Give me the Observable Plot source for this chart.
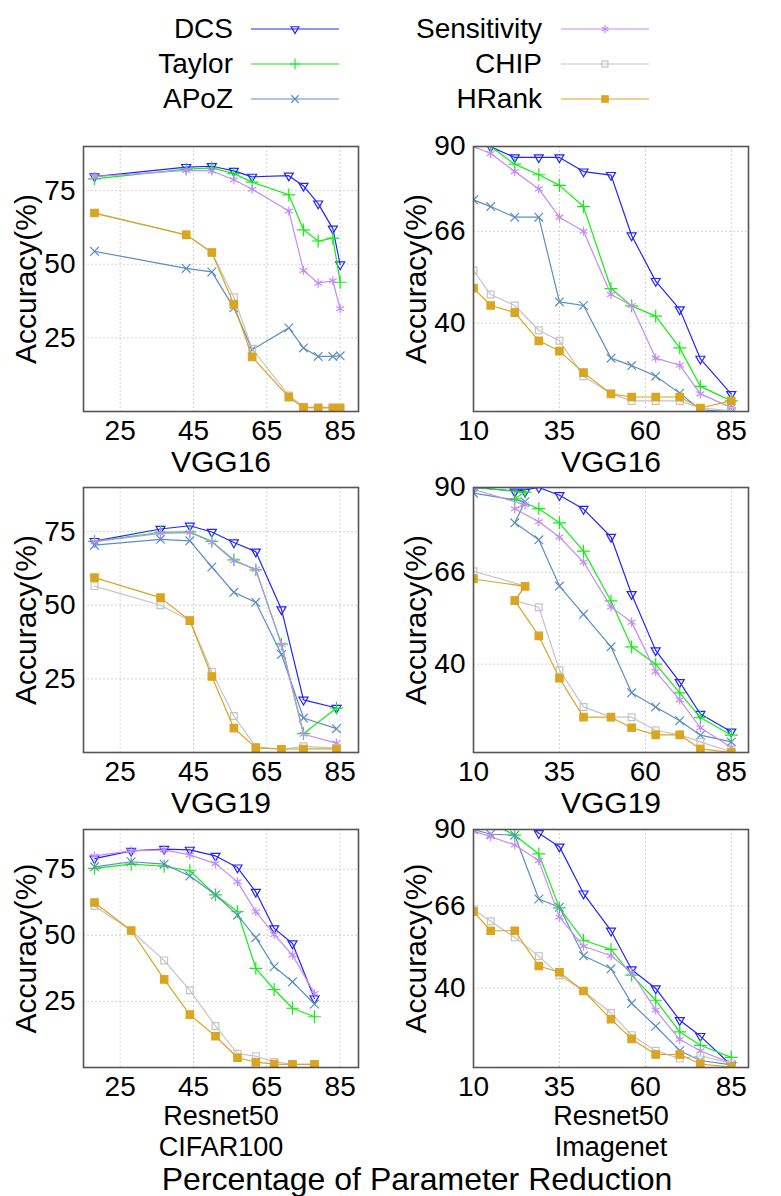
<!DOCTYPE html>
<html>
<head>
<meta charset="utf-8">
<script src="https://cdn.jsdelivr.net/npm/d3@7"></script>
<script src="https://cdn.jsdelivr.net/npm/@observablehq/plot@0.6"></script>
<style>
  html, body { margin: 0; padding: 0; background: #fff; }
  #root { position: relative; width: 781px; height: 1196px; overflow: hidden;
          font-family: "Liberation Sans", Arial, Helvetica, sans-serif; color: #000; }
  .panel { position: absolute; }
  .legtext { position: absolute; left: 0; text-align: right; font-size: 28px; line-height: 1; white-space: nowrap; }
  .legsw { position: absolute; overflow: visible; }
  #title { position: absolute; font-size: 32px; line-height: 1; white-space: nowrap; transform: translateX(-50%); }
</style>
</head>
<body>
<div id="root"></div>
<script>
// ---------------- DATA ----------------
const methods = ["DCS", "Taylor", "APoZ", "Sensitivity", "CHIP", "HRank"];

// tick labels
const xTicksLeft = [25, 45, 65, 85];
const yTicksLeft = [25, 50, 75];
const xTicksRight = [10, 35, 60, 85];
const yTicksRight = [40, 66, 90];

// Panel: VGG16 (left)
const vgg16L_x           = [18, 43, 50, 56, 61, 71, 75, 79, 83, 85];
const vgg16L_DCS         = [79.8, 83.0, 83.3, 81.7, 79.7, 80.1, 76.6, 70.6, 62.1, 49.9];
const vgg16L_Taylor      = [79.0, 82.3, 82.7, 80.8, 77.9, 73.6, 61.7, 57.9, 58.9, 43.9];
const vgg16L_APoZ        = [54.4, 48.6, 47.4, 35.2, 21.0, 28.4, 21.6, 18.7, 18.7, 18.9];
const vgg16L_Sensitivity = [79.8, 81.9, 81.7, 78.7, 75.5, 68.1, 47.9, 43.6, 44.4, 34.9];
const vgg16L_CHIP        = [67.4, 60.0, 54.0, 38.8, 21.3, 5.4, 1.6, 1.4, 1.4, 1.4];
const vgg16L_HRank       = [67.4, 60.0, 54.0, 36.4, 18.5, 4.9, 1.3, 1.2, 1.2, 1.2];

// Panel: VGG16 (right)
const vgg16R_x           = [10, 15, 22, 29, 35, 42, 50, 56, 63, 70, 76, 85];
const vgg16R_DCS         = [null, 89.9, 86.9, 86.9, 86.9, 82.9, 81.9, 64.8, 51.9, 43.9, 29.9, 19.9];
const vgg16R_Taylor      = [null, 90.0, 85.0, 82.0, 79.0, 73.0, 49.8, 44.9, 42.0, 33.0, 22.1, 18.0];
const vgg16R_APoZ        = [74.9, 73.0, 70.0, 70.0, 46.0, 45.0, 30.1, 28.0, 25.0, 20.2, 15.5, 14.9];
const vgg16R_Sensitivity = [90.0, 88.0, 82.9, 78.0, 70.0, 66.0, 48.1, 45.0, 30.1, 28.1, 20.0, 16.1];
const vgg16R_CHIP        = [54.9, 48.1, 45.0, 38.0, 35.0, 25.0, 20.0, 18.0, 18.0, 18.0, 16.0, 15.2];
const vgg16R_HRank       = [49.9, 45.0, 43.0, 35.0, 32.1, 26.0, 20.0, 19.1, 19.1, 19.1, 16.0, 18.0];

// Panel: VGG19 (left)
const vgg19L_x           = [18, 36, 44, 50, 56, 62, 69, 75, 84];
const vgg19L_DCS         = [71.8, 75.9, 77.0, 74.9, 71.3, 68.2, 48.6, 17.9, 15.1];
const vgg19L_Taylor      = [71.7, 74.8, 74.9, 71.7, 65.4, 62.0, 36.8, 6.4, 15.1];
const vgg19L_APoZ        = [70.4, 72.4, 71.9, 63.0, 54.4, 51.0, 33.3, 11.7, 8.1];
const vgg19L_Sensitivity = [71.6, 74.4, 74.7, 71.5, 65.1, 62.2, 36.6, 6.2, 3.2];
const vgg19L_CHIP        = [56.5, 50.0, 44.8, 27.4, 12.4, 1.9, 1.1, 2.1, 1.5];
const vgg19L_HRank       = [59.4, 52.6, 44.8, 25.8, 8.3, 1.6, 1.1, 1.2, 1.2];

// Panel: VGG19 (right)
const vgg19R_x           = [10, 25, 22, 29, 35, 42, 50, 56, 63, 70, 76, 85];
const vgg19R_DCS         = [90.0, 88.8, 88.8, 90.0, 87.8, 83.9, 76.0, 59.8, 43.9, 34.9, 25.9, 20.9];
const vgg19R_Taylor      = [90.0, 88.7, 86.8, 84.0, 80.0, 72.0, 57.9, 44.9, 40.0, 31.9, 24.9, 19.9];
const vgg19R_APoZ        = [88.4, 86.0, 80.0, 75.2, 62.1, 54.1, 44.9, 31.9, 27.9, 24.0, 19.9, 18.0];
const vgg19R_Sensitivity = [89.5, 85.1, 84.0, 80.3, 76.0, 68.9, 56.2, 51.9, 37.9, 29.9, 22.0, 16.4];
const vgg19R_CHIP        = [66.3, 62.1, 58.0, 56.1, 38.3, 27.9, 25.0, 25.0, 21.3, 20.0, 18.0, 15.2];
const vgg19R_HRank       = [64.1, 62.0, 58.0, 48.0, 36.0, 25.0, 25.0, 22.0, 20.0, 20.0, 16.0, 15.0];

// Panel: Resnet50 CIFAR100
const resC_x           = [18, 28, 37, 44, 51, 57, 62, 67, 72, 78];
const resC_DCS         = [79.0, 81.9, 82.6, 82.3, 80.0, 75.6, 66.4, 52.6, 46.9, 26.1];
const resC_Taylor      = [75.3, 76.9, 76.1, 74.4, 65.3, 58.9, 37.5, 29.5, 22.4, 19.2];
const resC_APoZ        = [75.9, 77.8, 76.9, 72.4, 65.3, 57.6, 49.1, 38.1, 32.4, 24.0];
const resC_Sensitivity = [80.0, 81.9, 82.3, 80.4, 77.1, 70.2, 58.9, 50.3, 42.5, 28.0];
const resC_CHIP        = [61.1, 51.8, 40.5, 29.2, 15.7, 5.2, 4.3, 2.1, 1.3, 1.2];
const resC_HRank       = [62.4, 51.8, 33.3, 20.0, 11.8, 3.7, 2.0, 1.3, 1.2, 1.2];

// Panel: Resnet50 Imagenet
const resI_x           = [10, 15, 22, 29, 35, 42, 50, 56, 63, 70, 76, 85];
const resI_DCS         = [95.0, 95.0, 94.5, 88.8, 84.6, 69.8, 58.1, 45.9, 39.9, 29.9, 24.9, 15.7];
const resI_Taylor      = [92.5, 92.1, 88.2, 82.3, 65.3, 55.1, 52.2, 44.1, 36.2, 26.2, 22.0, 18.2];
const resI_APoZ        = [90.0, 88.5, 88.2, 68.1, 65.5, 50.2, 46.1, 35.2, 28.0, 20.3, 17.2, 15.8];
const resI_Sensitivity = [89.5, 87.7, 85.1, 80.2, 62.4, 53.2, 50.2, 44.9, 33.1, 23.8, 20.3, 16.3];
const resI_CHIP        = [64.8, 61.1, 56.0, 50.1, 44.1, 39.1, 32.2, 25.2, 20.3, 17.8, 18.7, 16.3];
const resI_HRank       = [64.1, 58.1, 58.1, 47.0, 45.0, 39.1, 30.2, 24.0, 19.1, 19.1, 16.1, 15.1];

// ---------------- STYLES ----------------
const styles = {
  DCS:         {color: "#2323ff", symbol: "triangle2", r: 4.3, rotate: 180, fill: "none"},
  Taylor:      {color: "#11ee11", symbol: "plus",      r: 4.2, rotate: 0,   fill: "none"},
  APoZ:        {color: "#5b8ec2", symbol: "times",     r: 4.0, rotate: 0,   fill: "none"},
  Sensitivity: {color: "#c38cf7", symbol: "asterisk",  r: 4.3, rotate: 0,   fill: "none"},
  CHIP:        {color: "#c4c4c4", symbol: "square2",   r: 4.3, rotate: 0,   fill: "none"},
  HRank:       {color: "#daa520", symbol: "square",    r: 4.2, rotate: 0,   fill: "#daa520"}
};
const d3Symbols = {
  triangle2: d3.symbolTriangle2, plus: d3.symbolPlus, times: d3.symbolTimes,
  asterisk: d3.symbolAsterisk, square2: d3.symbolSquare2, square: d3.symbolSquare
};

const seriesTables = {
  vgg16L: [vgg16L_DCS, vgg16L_Taylor, vgg16L_APoZ, vgg16L_Sensitivity, vgg16L_CHIP, vgg16L_HRank],
  vgg16R: [vgg16R_DCS, vgg16R_Taylor, vgg16R_APoZ, vgg16R_Sensitivity, vgg16R_CHIP, vgg16R_HRank],
  vgg19L: [vgg19L_DCS, vgg19L_Taylor, vgg19L_APoZ, vgg19L_Sensitivity, vgg19L_CHIP, vgg19L_HRank],
  vgg19R: [vgg19R_DCS, vgg19R_Taylor, vgg19R_APoZ, vgg19R_Sensitivity, vgg19R_CHIP, vgg19R_HRank],
  resC:   [resC_DCS, resC_Taylor, resC_APoZ, resC_Sensitivity, resC_CHIP, resC_HRank],
  resI:   [resI_DCS, resI_Taylor, resI_APoZ, resI_Sensitivity, resI_CHIP, resI_HRank]
};
function seriesOf(key) {
  return Object.fromEntries(methods.map((m, i) => [m, seriesTables[key][i]]));
}

const panels = [
  {col: 0, top: 146, h: 265, mb: 80,  xDomain: [15, 90], yDomain: [0, 90],  xTicks: xTicksLeft,  yTicks: yTicksLeft,  label: ["VGG16"], x: vgg16L_x, s: seriesOf("vgg16L")},
  {col: 1, top: 146, h: 265, mb: 80,  xDomain: [10, 90], yDomain: [15, 90], xTicks: xTicksRight, yTicks: yTicksRight, label: ["VGG16"], x: vgg16R_x, s: seriesOf("vgg16R")},
  {col: 0, top: 487, h: 265, mb: 80,  xDomain: [15, 90], yDomain: [0, 90],  xTicks: xTicksLeft,  yTicks: yTicksLeft,  label: ["VGG19"], x: vgg19L_x, s: seriesOf("vgg19L")},
  {col: 1, top: 487, h: 265, mb: 80,  xDomain: [10, 90], yDomain: [15, 90], xTicks: xTicksRight, yTicks: yTicksRight, label: ["VGG19"], x: vgg19R_x, s: seriesOf("vgg19R")},
  {col: 0, top: 829, h: 238, mb: 110, xDomain: [15, 90], yDomain: [0, 90],  xTicks: xTicksLeft,  yTicks: yTicksLeft,  label: ["Resnet50", "CIFAR100"], x: resC_x, s: seriesOf("resC")},
  {col: 1, top: 829, h: 238, mb: 110, xDomain: [10, 90], yDomain: [15, 90], xTicks: xTicksRight, yTicks: yTicksRight, label: ["Resnet50", "Imagenet"], x: resI_x, s: seriesOf("resI")}
];

const root = document.getElementById("root");
const FONT = '"Liberation Sans", Arial, Helvetica, sans-serif';

panels.forEach(p => {
  const mt = 30;
  const gridStyle = {stroke: "#c8c8c8", strokeOpacity: 1, strokeDasharray: "2,2", strokeWidth: 0.8};
  const marks = [
    Plot.gridX({ticks: p.xTicks, ...gridStyle}),
    Plot.gridY({ticks: p.yTicks, ...gridStyle})
  ];
  methods.forEach(m => {
    const st = styles[m];
    const ys = p.s[m];
    const data = p.x.map((x, i) => ({x, y: ys[i]})).filter(d => d.y != null);
    marks.push(Plot.line(data, {x: "x", y: "y", stroke: st.color, strokeWidth: 1.2, clip: true}));
    marks.push(Plot.dot(data, {
      x: "x", y: "y", symbol: st.symbol, r: st.r, rotate: st.rotate,
      stroke: st.color, fill: st.fill, strokeWidth: 1.2, clip: true
    }));
  });
  marks.push(Plot.frame({stroke: "#555", strokeWidth: 1.6}));
  marks.push(Plot.axisX({ticks: p.xTicks, tickSize: 0, tickPadding: 9, fontSize: 28, label: null}));
  marks.push(Plot.axisY({ticks: p.yTicks, tickSize: 0, tickPadding: 8, fontSize: 28, label: null}));
  if (p.label.length === 1) {
    marks.push(Plot.text(p.label, {
      text: d => d, frameAnchor: "bottom", dy: 60,
      lineAnchor: "bottom", fontSize: 30, textAnchor: "middle"
    }));
  } else {
    // two separate lines, baselines 31px apart
    marks.push(Plot.text([p.label[0]], {
      text: d => d, frameAnchor: "bottom", dy: 57,
      lineAnchor: "bottom", fontSize: 27, textAnchor: "middle"
    }));
    marks.push(Plot.text([p.label[1]], {
      text: d => d, frameAnchor: "bottom", dy: 88,
      lineAnchor: "bottom", fontSize: 27, textAnchor: "middle"
    }));
  }
  marks.push(Plot.text(["Accuracy(%)"], {
    text: d => d, frameAnchor: "left", dx: -47.5, rotate: -90,
    lineAnchor: "bottom", fontSize: 30, textAnchor: "middle"
  }));

  const svg = Plot.plot({
    width: 390,
    height: p.h + mt + p.mb,
    marginLeft: 83, marginRight: 32, marginTop: mt, marginBottom: p.mb,
    x: {domain: p.xDomain},
    y: {domain: p.yDomain},
    style: {fontFamily: FONT, background: "transparent", overflow: "visible", color: "#000"},
    marks
  });
  const div = document.createElement("div");
  div.className = "panel";
  div.style.left = (p.col * 390) + "px";
  div.style.top = (p.top - mt) + "px";
  div.appendChild(svg);
  root.appendChild(div);
});

// ---------------- LEGEND ----------------
const legendLayout = [
  {m: "DCS", col: 0, row: 0}, {m: "Taylor", col: 0, row: 1}, {m: "APoZ", col: 0, row: 2},
  {m: "Sensitivity", col: 1, row: 0}, {m: "CHIP", col: 1, row: 1}, {m: "HRank", col: 1, row: 2}
];
const legTextRight = [233, 542];
const legLineLeft = [251, 561];
const legLineLen = 88;
const legRowY = [29, 64, 99];
legendLayout.forEach(e => {
  const st = styles[e.m];
  const cy = legRowY[e.row];
  const t = document.createElement("div");
  t.className = "legtext";
  t.style.width = legTextRight[e.col] + "px";
  t.style.top = (cy + 10 - 0.8465 * 28) + "px";
  t.textContent = e.m;
  root.appendChild(t);

  const svg = d3.create("svg")
    .attr("class", "legsw")
    .attr("width", legLineLen).attr("height", 20)
    .style("left", legLineLeft[e.col] + "px")
    .style("top", (cy - 10) + "px");
  svg.append("line").attr("x1", 0).attr("x2", legLineLen).attr("y1", 10).attr("y2", 10)
    .attr("stroke", st.color).attr("stroke-width", 1.2);
  svg.append("path")
    .attr("d", d3.symbol(d3Symbols[st.symbol], st.r * st.r * Math.PI * 0.75)())
    .attr("transform", `translate(${legLineLen / 2},10) rotate(${st.rotate})`)
    .attr("stroke", st.color).attr("stroke-width", 1.2)
    .attr("fill", st.fill);
  root.appendChild(svg.node());
});

// ---------------- TITLE ----------------
const title = document.createElement("div");
title.id = "title";
title.textContent = "Percentage of Parameter Reduction";
title.style.left = "417px";
title.style.top = (1190 - 0.8465 * 32) + "px";
root.appendChild(title);
</script>
</body>
</html>
